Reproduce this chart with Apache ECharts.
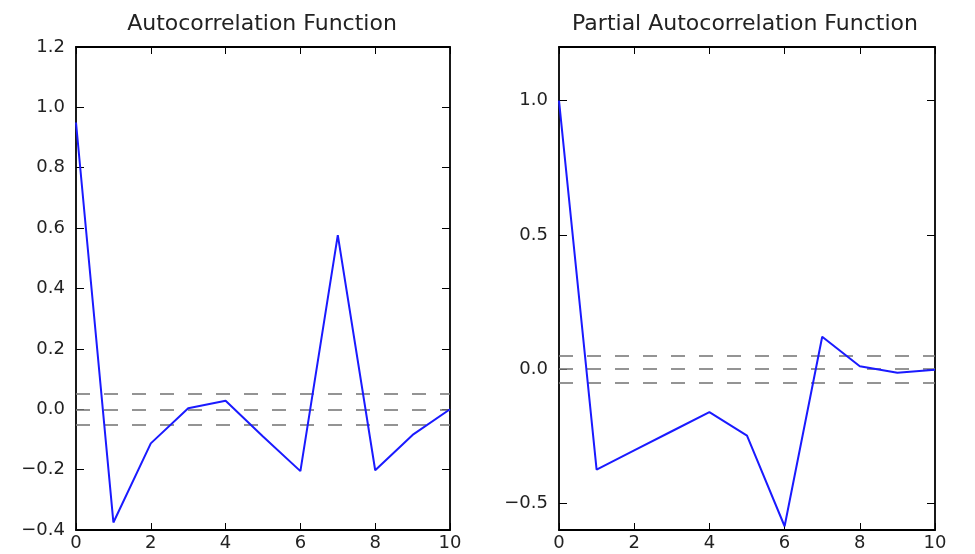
<!DOCTYPE html>
<html>
<head>
<meta charset="utf-8">
<script src="https://cdn.jsdelivr.net/npm/echarts@6/dist/echarts.min.js"></script>
<style>html,body{margin:0;padding:0;background:#fff}#chart{width:975px;height:554px}</style>
</head>
<body>
<div id="chart"></div>
<script>
const lags = [0, 1, 2, 3, 4, 5, 6, 7, 8, 9, 10];
const acfValues = [0.95, -0.375, -0.113, 0.003, 0.028, -0.09, -0.205, 0.577, -0.202, -0.085, 0.0];
const pacfValues = [1.0, -0.375, -0.303, -0.232, -0.161, -0.248, -0.586, 0.12, 0.01, -0.014, -0.003];
const confBand = [-0.048, 0, 0.048];
const acfTicks = [-0.4, -0.2, 0, 0.2, 0.4, 0.6, 0.8, 1.0, 1.2];
const pacfTicks = [-0.5, 0, 0.5, 1.0];
const xTicks = [0, 2, 4, 6, 8, 10];
const titles = ['Autocorrelation Function', 'Partial Autocorrelation Function'];

const FONT = 'DejaVu Sans';
const TXT = '#222';
const fmt = v => (v < 0 ? '\u2212' : '') + Math.abs(v).toFixed(1);

const chart = echarts.init(document.getElementById('chart'), null, {renderer: 'canvas'});
const axisLine = {show: true, onZero: false, lineStyle: {color: '#000', width: 1.8}};
function xAx(gi, pos) {
  return {
    type: 'value', gridIndex: gi, position: pos, min: 0, max: 10, interval: 2,
    axisLine: axisLine,
    axisTick: {show: true, inside: true, length: 7, customValues: xTicks, lineStyle: {color: '#000', width: 1}},
    axisLabel: {show: pos === 'bottom', color: TXT, fontFamily: FONT, fontSize: 18, margin: 4, customValues: xTicks},
    splitLine: {show: false}
  };
}
function yAx(gi, pos, mn, mx, iv, custom) {
  return {
    type: 'value', gridIndex: gi, position: pos, min: mn, max: mx, interval: iv,
    axisLine: axisLine,
    axisTick: {show: true, inside: true, length: 8, customValues: custom, lineStyle: {color: '#000', width: 1}},
    axisLabel: {show: pos === 'left', color: TXT, fontFamily: FONT, fontSize: 18, margin: 11, formatter: fmt, customValues: custom},
    splitLine: {show: false}
  };
}
function bandSeries(xi, yi) {
  return {
    type: 'line', xAxisIndex: xi, yAxisIndex: yi, data: [], silent: true,
    markLine: {
      silent: true, symbol: ['none', 'none'], label: {show: false},
      lineStyle: {color: '#7a7a7a', width: 1.6, type: [14, 14]},
      data: confBand.map(v => ({yAxis: v}))
    }
  };
}
const option = {
  animation: false,
  backgroundColor: '#fff',
  graphic: [
    {type: 'text', x: 262, y: 13, style: {text: titles[0], fontFamily: FONT, fontSize: 22, fill: TXT, textAlign: 'center'}},
    {type: 'text', x: 745, y: 13, style: {text: titles[1], fontFamily: FONT, fontSize: 22, fill: TXT, textAlign: 'center'}}
  ],
  grid: [
    {left: 76, right: 525, top: 47, bottom: 24},
    {left: 559, right: 40, top: 47, bottom: 24}
  ],
  xAxis: [xAx(0, 'bottom'), xAx(0, 'top'), xAx(1, 'bottom'), xAx(1, 'top')],
  yAxis: [
    yAx(0, 'left', -0.4, 1.2, 0.2, acfTicks), yAx(0, 'right', -0.4, 1.2, 0.2, acfTicks),
    yAx(1, 'left', -0.6, 1.2, 0.3, pacfTicks), yAx(1, 'right', -0.6, 1.2, 0.3, pacfTicks)
  ],
  series: [
    bandSeries(0, 0),
    bandSeries(2, 2),
    {type: 'line', xAxisIndex: 0, yAxisIndex: 0, showSymbol: false, symbol: 'none',
     lineStyle: {color: '#1a1aff', width: 2}, data: lags.map((l, i) => [l, acfValues[i]]), z: 5},
    {type: 'line', xAxisIndex: 2, yAxisIndex: 2, showSymbol: false, symbol: 'none',
     lineStyle: {color: '#1a1aff', width: 2}, data: lags.map((l, i) => [l, pacfValues[i]]), z: 5}
  ]
};
chart.setOption(option);
</script>
</body>
</html>
